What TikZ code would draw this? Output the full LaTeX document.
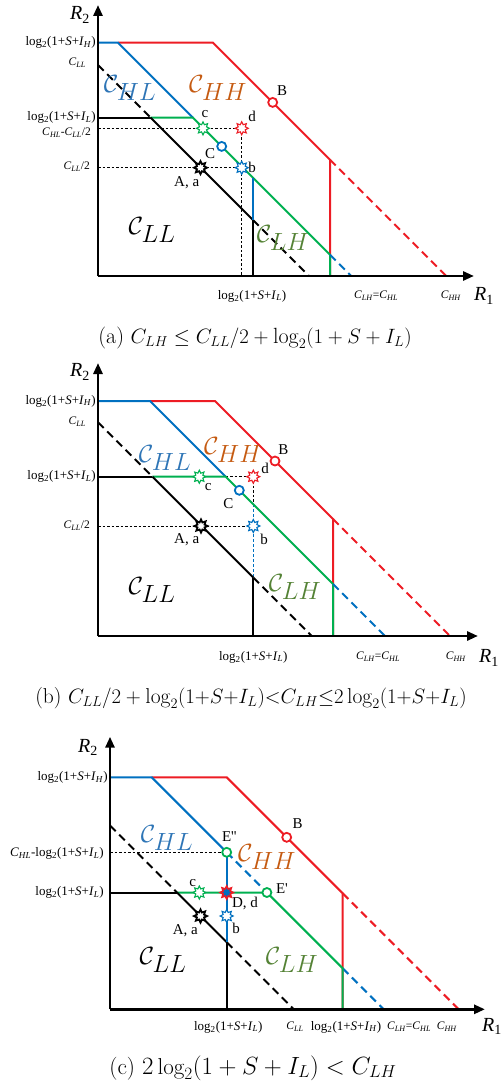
\documentclass[tikz,border=0pt]{standalone}
\usepackage{fontspec}
\usepackage{amsmath}
\usetikzlibrary{arrows.meta,shapes.geometric}
\newfontfamily\tnr{Liberation Serif}
\definecolor{cred}{RGB}{237,28,36}
\definecolor{cblue}{RGB}{0,112,192}
\definecolor{cgreen}{RGB}{0,176,80}
\definecolor{hhcol}{RGB}{197,90,17}
\definecolor{hlcol}{RGB}{46,117,182}
\definecolor{lhcol}{RGB}{84,130,53}
\newcommand{\lgt}[1]{log\textsubscript{2}(1+\textit{S}+\textit{I}\textsubscript{\textit{#1}})}
\newcommand{\ccsub}[1]{\textit{C}\textsubscript{\textit{#1}}}
\tikzset{
 axisline/.style={line width=2.8pt, -{Triangle[length=11pt,width=9pt]}},
 seg/.style={line width=2pt},
 guide/.style={line width=0.7pt, dash pattern=on 2.5pt off 2pt},
 bdash/.style={line width=2pt, dash pattern=on 8pt off 5pt},
 starpt/.style={star, star points=8, star point ratio=1.7, minimum size=13pt, inner sep=0pt, draw=#1, fill=white, line width=1.1pt},
 circpt/.style={circle, draw=#1, fill=white, line width=1.8pt, minimum size=9pt, inner sep=0pt},
 ptlab/.style={font=\tnr\fontsize{15}{17}\selectfont, inner sep=1pt},
 ylab/.style={font=\tnr\fontsize{13}{15}\selectfont, anchor=east, inner sep=1pt},
 ysmall/.style={font=\tnr\fontsize{11.5}{13}\selectfont, anchor=east, inner sep=1pt},
 xlab/.style={font=\tnr\fontsize{13}{15}\selectfont, inner sep=1pt},
 xsmall/.style={font=\tnr\fontsize{11.5}{13}\selectfont, inner sep=1pt},
 rlab/.style={font=\fontsize{33}{36}\selectfont, inner sep=0pt},
 captext/.style={font=\fontsize{22}{25}\selectfont, inner sep=0pt},
 axlab/.style={font=\tnr\fontsize{20}{22}\selectfont, inner sep=0pt}
}
\begin{document}
\begin{tikzpicture}[x=1pt,y=-1pt]
\useasboundingbox (0,0) rectangle (503,1083);
% ================= panel (a) =================
\coordinate (aO) at (98,276);
\coordinate (aYt) at (98,5);
\coordinate (aXt) at (474,276);
\coordinate (aH0) at (98,42.7);
\coordinate (aH1) at (118,42.7);
\coordinate (aH2) at (213,42.7);
\coordinate (aR2) at (330,159.7);
\coordinate (aRx) at (330,276);
\coordinate (aRd) at (446.3,276);
\coordinate (aG1) at (193,117.7);
\coordinate (aG2) at (330,254.7);
\coordinate (aGx) at (330,276);
\coordinate (aBd) at (351.3,276);
\coordinate (aL0) at (98,117.7);
\coordinate (aK1) at (150.7,117.7);
\coordinate (aC0) at (98,65);
\coordinate (aK2) at (253,220);
\coordinate (aKx) at (309,276);
\coordinate (aV1) at (253,177.7);
\coordinate (aV0) at (253,276);
\coordinate (aY1) at (98,128.3);
\coordinate (aY2) at (98,167.7);
\coordinate (apd) at (241.7,128.3);
\coordinate (apb) at (241.7,167.7);
\coordinate (aD0) at (241.7,276);
\draw[guide] (aY1) -- (apd);
\draw[guide] (aY2) -- (apb);
\draw[guide] (apd) -- (aD0);
\draw[seg,cred] (aH1) -- (aH2) -- (aR2) -- (aRx);
\draw[bdash,cred] (aR2) -- (aRd);
\draw[seg,cblue] (aH0) -- (aH1) -- (aG1);
\draw[seg] (aL0) -- (aK1);
\draw[seg,cgreen] (aK1) -- (aG1) -- (aG2) -- (aGx);
\draw[bdash,cblue] (aG2) -- (aBd);
\draw[bdash] (aC0) -- (aK1);
\draw[seg] (aK1) -- (aK2);
\draw[bdash] (aK2) -- (aKx);
\draw[seg,cblue] (aV1) -- (aK2);
\draw[seg] (aK2) -- (aV0);
\draw[axisline] (aO) -- (aYt);
\draw[axisline] (aO) -- (aXt);
\node[starpt=cgreen] (ac) at (203,128.3) {};
\node[starpt=cred] (ad) at (apd) {};
\node[starpt=cblue] (ab) at (apb) {};
\node[starpt=black,line width=1.8pt] (aA) at (200.5,167.7) {};
\node[circpt=cblue] (aC) at (221.7,146.4) {};
\node[circpt=cred] (aB) at (272.7,102.4) {};
\node[ptlab] (acl) at (205,114) {c};
\node[ptlab] (adl) at (252,116) {d};
\node[ptlab] (abl) at (252,167) {b};
\node[ptlab] (aCl) at (210,154) {C};
\node[ptlab] (aAl) at (186.7,183) {A, a};
\node[ptlab] (aBl) at (282,91) {B};
\node[rlab,hlcol] (aHL) at (130,88) {$\mathcal{C}_{HL}$};
\node[rlab,hhcol] (aHH) at (218,88) {$\mathcal{C}_{HH}$};
\node[rlab] (aLL) at (152,230) {$\mathcal{C}_{LL}$};
\node[rlab,lhcol] (aLH) at (283,238) {$\mathcal{C}_{LH}$};
\node[ylab] (ay1) at (97,42.7) {\lgt{H}};
\node[ysmall] (ay2) at (87,63) {\ccsub{LL}};
\node[ylab] (ay3) at (97,117.7) {\lgt{L}};
\node[ysmall] (ay4) at (92,133) {\ccsub{HL}-\ccsub{LL}/2};
\node[ysmall] (ay5) at (91,167) {\ccsub{LL}/2};
\node[xlab] (ax1) at (252,296) {\lgt{L}};
\node[xsmall] (ax2) at (376,296) {\ccsub{LH}=\ccsub{HL}};
\node[xsmall] (ax3) at (451,296) {\ccsub{HH}};
\node[axlab] (aR1) at (484,296) {\textit{R}\textsubscript{1}};
\node[axlab] (aR2l) at (80,15) {\textit{R}\textsubscript{2}};
\node[captext] (acap) at (255,338) {(a)\ $C_{LH} \le C_{LL}/2 + \log_2(1+S+I_L)$};
% ================= panel (b) =================
\coordinate (bO) at (98,636);
\coordinate (bYt) at (98,363);
\coordinate (bXt) at (478,636);
\coordinate (bH0) at (98,401);
\coordinate (bH1) at (150,401);
\coordinate (bH2) at (215,401);
\coordinate (bR2) at (333,519);
\coordinate (bRx) at (333,636);
\coordinate (bRd) at (450,636);
\coordinate (bG1) at (225.7,476.7);
\coordinate (bG2) at (333,584);
\coordinate (bGx) at (333,636);
\coordinate (bBd) at (385,636);
\coordinate (bL0) at (98,476.7);
\coordinate (bK1) at (152.4,476.7);
\coordinate (bC0) at (98,422.3);
\coordinate (bK2) at (253.3,577.6);
\coordinate (bKx) at (311.7,636);
\coordinate (bV1) at (253.3,504.3);
\coordinate (bV0) at (253.3,636);
\coordinate (bY2) at (98,526);
\coordinate (bpd) at (253.3,476.7);
\coordinate (bpb) at (253.3,526);
\draw[guide] (bG1) -- (bpd);
\draw[guide] (bY2) -- (bpb);
\draw[guide] (bpd) -- (bV1);
\draw[cblue,dash pattern=on 3pt off 2pt,line width=1.2pt] (bV1) -- (bK2);
\draw[seg,cred] (bH1) -- (bH2) -- (bR2) -- (bRx);
\draw[bdash,cred] (bR2) -- (bRd);
\draw[seg,cblue] (bH0) -- (bH1) -- (bG1);
\draw[seg] (bL0) -- (bK1);
\draw[seg,cgreen] (bK1) -- (bG1) -- (bG2) -- (bGx);
\draw[bdash,cblue] (bG2) -- (bBd);
\draw[bdash] (bC0) -- (bK1);
\draw[seg] (bK1) -- (bK2);
\draw[bdash] (bK2) -- (bKx);
\draw[seg] (bK2) -- (bV0);
\draw[axisline] (bO) -- (bYt);
\draw[axisline] (bO) -- (bXt);
\node[starpt=cgreen] (bc) at (199.3,476.7) {};
\node[starpt=cred] (bd) at (bpd) {};
\node[starpt=cblue] (bb) at (bpb) {};
\node[starpt=black,line width=1.8pt] (bA) at (201,526) {};
\node[circpt=cblue] (bC) at (239.3,490.3) {};
\node[circpt=cred] (bB) at (275,461) {};
\node[ptlab] (bcl) at (208.3,487) {c};
\node[ptlab] (bdl) at (265,468) {d};
\node[ptlab] (bbl) at (264,539) {b};
\node[ptlab] (bCl) at (228.3,504) {C};
\node[ptlab] (bAl) at (186.7,539.5) {A, a};
\node[ptlab] (bBl) at (283.3,449.5) {B};
\node[rlab,hlcol] (bHL) at (165,458) {$\mathcal{C}_{HL}$};
\node[rlab,hhcol] (bHH) at (233,450) {$\mathcal{C}_{HH}$};
\node[rlab] (bLL) at (152,590) {$\mathcal{C}_{LL}$};
\node[rlab,lhcol] (bLH) at (295,587) {$\mathcal{C}_{LH}$};
\node[ylab] (by1) at (97,401) {\lgt{H}};
\node[ysmall] (by2) at (87,422) {\ccsub{LL}};
\node[ylab] (by3) at (97,476.7) {\lgt{L}};
\node[ysmall] (by5) at (91,526) {\ccsub{LL}/2};
\node[xlab] (bx1) at (253.3,657) {\lgt{L}};
\node[xsmall] (bx2) at (378,657) {\ccsub{LH}=\ccsub{HL}};
\node[xsmall] (bx3) at (456,657) {\ccsub{HH}};
\node[axlab] (bR1) at (489,658) {\textit{R}\textsubscript{1}};
\node[axlab] (bR2l) at (80,372) {\textit{R}\textsubscript{2}};
\node[captext,font=\fontsize{21.5}{24}\selectfont] (bcap) at (251,698) {(b)\ $C_{LL}/2+\log_2(1{+}S{+}I_L){<}C_{LH}{\le}2\log_2(1{+}S{+}I_L)$};
% ================= panel (c) =================
\coordinate (cO) at (110,1009.3);
\coordinate (cYt) at (110,736.7);
\coordinate (cXt) at (485,1009.3);
\coordinate (cH0) at (110,777.3);
\coordinate (cH1) at (151.7,777.3);
\coordinate (cH2) at (226.7,777.3);
\coordinate (cR2) at (342.7,893.3);
\coordinate (cRx) at (342.7,1009.3);
\coordinate (cRd) at (458.7,1009.3);
\coordinate (cpE2) at (226.7,852.3);
\coordinate (cpE1) at (266.9,892.5);
\coordinate (cG2) at (342.7,968.3);
\coordinate (cGx) at (342.7,1009.3);
\coordinate (cBd) at (383.7,1009.3);
\coordinate (cL0) at (110,892.5);
\coordinate (cK1) at (177,892.5);
\coordinate (cC0) at (110,825.5);
\coordinate (cK2) at (226.7,942.2);
\coordinate (cKx) at (293.8,1009.3);
\coordinate (cV0) at (226.7,1009.3);
\coordinate (cY1) at (110,852.3);
\draw[guide] (cY1) -- (cpE2);
\draw[seg,cred] (cH1) -- (cH2) -- (cR2) -- (cRx);
\draw[bdash,cred] (cR2) -- (cRd);
\draw[seg,cblue] (cH0) -- (cH1) -- (cpE2);
\draw[bdash,cblue] (cpE2) -- (cpE1);
\draw[bdash,cblue] (cG2) -- (cBd);
\draw[seg] (cL0) -- (cK1);
\draw[seg,cgreen] (cK1) -- (cpE1) -- (cG2) -- (cGx);
\draw[bdash] (cC0) -- (cK1);
\draw[seg] (cK1) -- (cK2);
\draw[bdash] (cK2) -- (cKx);
\draw[seg,cblue] (cpE2) -- (cK2);
\draw[seg] (cK2) -- (cV0);
\draw[axisline] (cO) -- (cYt);
\draw[axisline] (cO) -- (cXt);
\node[starpt=cgreen] (cc) at (199.3,892.5) {};
\node[starpt=cred,fill=cblue,line width=1.6pt] (cD) at (226.7,892.5) {};
\node[starpt=cblue] (cb) at (226.7,916) {};
\node[starpt=black,line width=1.8pt] (cA) at (200.5,916) {};
\node[circpt=cgreen] (cE2) at (cpE2) {};
\node[circpt=cgreen] (cE1) at (cpE1) {};
\node[circpt=cred] (cB) at (286.7,837.3) {};
\node[ptlab] (ccl) at (192.7,883) {c};
\node[ptlab] (cDl) at (245,903.5) {D, d};
\node[ptlab] (cbl) at (236,928.5) {b};
\node[ptlab] (cAl) at (185.3,931) {A, a};
\node[ptlab] (cE2l) at (229.3,836.7) {E''};
\node[ptlab] (cE1l) at (282,888.3) {E'};
\node[ptlab] (cBl) at (297.7,824) {B};
\node[rlab,hlcol] (cHL) at (167,838) {$\mathcal{C}_{HL}$};
\node[rlab,hhcol] (cHH) at (267,857) {$\mathcal{C}_{HH}$};
\node[rlab] (cLL) at (163,960) {$\mathcal{C}_{LL}$};
\node[rlab,lhcol] (cLH) at (292,960) {$\mathcal{C}_{LH}$};
\node[ylab] (cy1) at (109,777.3) {\lgt{H}};
\node[ylab] (cy2) at (105,853.3) {\ccsub{HL}-\lgt{L}};
\node[ylab] (cy3) at (105,892.5) {\lgt{L}};
\node[xlab] (cx1) at (228.3,1027) {\lgt{L}};
\node[xsmall] (cx2) at (295,1027) {\ccsub{LL}};
\node[xlab] (cx3) at (346,1027) {\lgt{H}};
\node[xsmall] (cx4) at (409,1027) {\ccsub{LH}=\ccsub{HL}};
\node[xsmall] (cx5) at (447,1027) {\ccsub{HH}};
\node[axlab] (cR1) at (492,1026) {\textit{R}\textsubscript{1}};
\node[axlab] (cR2l) at (88,747) {\textit{R}\textsubscript{2}};
\node[captext,font=\fontsize{23}{26}\selectfont] (ccap) at (253,1068) {(c)\ $2\log_2(1+S+I_L) < C_{LH}$};
\end{tikzpicture}
\end{document}
